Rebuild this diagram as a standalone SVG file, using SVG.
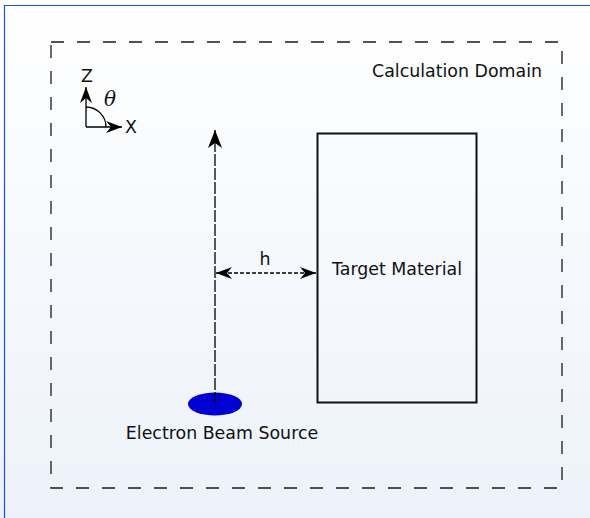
<svg xmlns="http://www.w3.org/2000/svg" width="590" height="518" viewBox="0 0 590 518">
<style>
text{font-family:"DejaVu Sans","Liberation Sans",sans-serif;font-size:17.4px;fill:#111}
.ln{stroke:#000;fill:none;stroke-width:1.3}
</style>
<defs>
<linearGradient id="bg" x1="0" y1="0" x2="0" y2="1">
<stop offset="0" stop-color="#ffffff"/>
<stop offset="1" stop-color="#edf2fa"/>
</linearGradient>
<marker id="ah" markerUnits="userSpaceOnUse" markerWidth="22" markerHeight="16" viewBox="-20 -8 22 16" refX="0" refY="0" orient="auto">
<path d="M0,0 L-18,-7 L-13,0 L-18,7 Z" fill="#000"/>
</marker>
<marker id="ahs" markerUnits="userSpaceOnUse" markerWidth="18" markerHeight="14" viewBox="-16 -7 18 14" refX="0" refY="0" orient="auto">
<path d="M0,0 L-16,-6 L-11,0 L-16,6 Z" fill="#000"/>
</marker>
<marker id="ahsr" markerUnits="userSpaceOnUse" markerWidth="18" markerHeight="14" viewBox="-16 -7 18 14" refX="0" refY="0" orient="auto-start-reverse">
<path d="M0,0 L-16,-6 L-11,0 L-16,6 Z" fill="#000"/>
</marker>
</defs>
<rect x="0" y="0" width="590" height="518" fill="url(#bg)"/>
<path d="M4.5,518 V5.5 H590" fill="none" stroke="#1f4fe0" stroke-width="1.2"/>
<g id="domain">
<rect x="51" y="42" width="511" height="446" fill="none" stroke="#1a1a1a" stroke-width="1.3" stroke-dasharray="13,13"/>
<text x="372" y="77">Calculation Domain</text>
</g>
<g id="axes">
<path class="ln" d="M86,127 V87" marker-end="url(#ahs)"/>
<path class="ln" d="M86,127 H122" marker-end="url(#ahs)"/>
<path class="ln" d="M86,107 A20,20 0 0 1 106,127"/>
<text x="81" y="82">Z</text>
<text x="125" y="133">X</text>
<text x="104" y="106" style="font-family:'DejaVu Serif','Liberation Serif',serif;font-style:italic;font-size:20px">θ</text>
</g>
<g id="target">
<rect x="317.5" y="133.5" width="159" height="269" fill="none" stroke="#111" stroke-width="2"/>
<text x="397" y="275" text-anchor="middle">Target Material</text>
</g>
<g id="source">
<ellipse cx="215" cy="404" rx="27" ry="11.5" fill="#0000d0"/>
<text x="222" y="439" text-anchor="middle">Electron Beam Source</text>
</g>
<g id="connectors">
<path d="M215,404 V130" stroke="#000" stroke-width="1.3" fill="none" stroke-dasharray="12,2" marker-end="url(#ah)"/>
<path d="M216,273 H316" stroke="#000" stroke-width="1.3" fill="none" stroke-dasharray="4,2" marker-start="url(#ahsr)" marker-end="url(#ahs)"/>
<text x="265" y="265" text-anchor="middle">h</text>
</g>
</svg>
